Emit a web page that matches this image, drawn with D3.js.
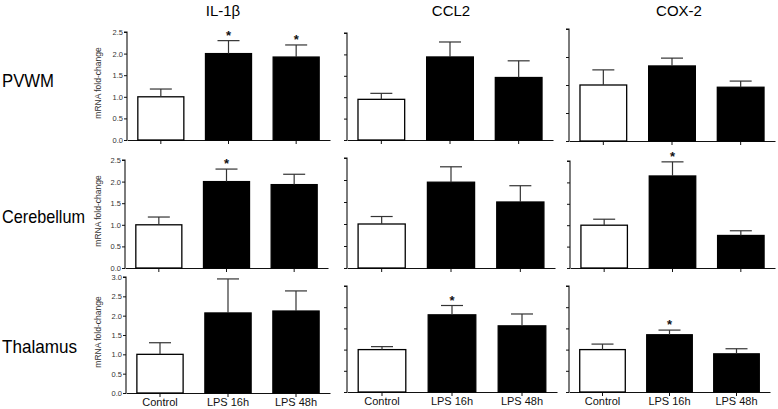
<!DOCTYPE html>
<html><head><meta charset="utf-8">
<script src="https://cdn.jsdelivr.net/npm/d3@7"></script>
<style>html,body{margin:0;padding:0;background:#fff}svg{display:block}</style>
</head><body>
<svg id="c" width="778" height="409"></svg>
<script>
// ---------- data ----------
const categories = ["Control", "LPS 16h", "LPS 48h"];
const genes = ["IL-1β", "CCL2", "COX-2"];
const regions = ["PVWM", "Cerebellum", "Thalamus"];

// mean fold-change [region][gene][category]
const meanPVWM       = [[1.00, 2.00, 1.92], [0.95, 1.94, 1.46], [1.00, 1.34, 0.96]];
const meanCerebellum = [[1.00, 2.00, 1.93], [1.00, 1.95, 1.50], [1.00, 2.15, 0.76]];
const meanThalamus   = [[1.00, 2.07, 2.12], [1.00, 1.82, 1.56], [1.00, 1.35, 0.90]];
// SEM
const semPVWM       = [[0.18, 0.30, 0.28], [0.14, 0.35, 0.39], [0.27, 0.14, 0.11]];
const semCerebellum = [[0.18, 0.29, 0.24], [0.17, 0.35, 0.37], [0.14, 0.33, 0.11]];
const semThalamus   = [[0.30, 0.88, 0.52], [0.07, 0.22, 0.28], [0.13, 0.11, 0.12]];
// significance stars
const sigPVWM       = [[0, 1, 1], [0, 0, 0], [0, 0, 0]];
const sigCerebellum = [[0, 1, 0], [0, 0, 0], [0, 1, 0]];
const sigThalamus   = [[0, 0, 0], [0, 1, 0], [0, 1, 0]];
// y-axis maxima and tick values
const yMaxPVWM = [2.5, 2.5, 2.0];
const yMaxCerebellum = [2.5, 2.5, 2.5];
const yMaxThalamus = [3.0, 2.5, 2.5];
const tickStep = 0.5;
const yTitle = "mRNA fold-change";

const means = [meanPVWM, meanCerebellum, meanThalamus];
const sems = [semPVWM, semCerebellum, semThalamus];
const sigs = [sigPVWM, sigCerebellum, sigThalamus];
const yMaxes = [yMaxPVWM, yMaxCerebellum, yMaxThalamus];

// ---------- layout ----------
const FONT = "'Liberation Sans', Arial, sans-serif";
const layout = [
  // [axisX, width, yBottom, yTop] per column
  [[127, 203, 140, 32], [347, 206, 140, 33], [569, 206, 141, 29]],
  [[125, 203, 268, 160], [347, 208, 268, 158], [570, 205, 268, 161]],
  [[126, 204, 393, 277], [347, 210, 392, 286], [569, 201, 392, 286]]
];
const rowLabelY = [87, 223, 353];
const rowLabelW = [52, 83, 75];
const colTitleX = [223, 451, 679];

const svg = d3.select("#c");
svg.append("rect").attr("width", 778).attr("height", 409).attr("fill", "#fff");

// column titles
genes.forEach((g, j) => {
  svg.append("text").attr("x", colTitleX[j]).attr("y", 16)
    .attr("text-anchor", "middle").attr("font-family", FONT)
    .attr("font-size", 15).attr("fill", "#000").text(g);
});
// row labels
regions.forEach((r, i) => {
  svg.append("text").attr("x", 2).attr("y", rowLabelY[i])
    .attr("font-family", FONT).attr("font-size", 19).attr("fill", "#000")
    .attr("textLength", rowLabelW[i]).attr("lengthAdjust", "spacingAndGlyphs")
    .text(r);
});

for (let i = 0; i < 3; i++) {
  for (let j = 0; j < 3; j++) {
    const [ax, w, yb, yt] = layout[i][j];
    const g = svg.append("g");
    const x = d3.scaleBand().domain(categories).range([ax, ax + w])
      .paddingInner(0.32).paddingOuter(0.16);
    const y = d3.scaleLinear().domain([0, yMaxes[i][j]]).range([yb, yt]);
    const ticks = d3.range(0, yMaxes[i][j] + 1e-9, tickStep);

    // y axis
    const yAxis = d3.axisLeft(y).tickValues(ticks).tickSize(3).tickPadding(1)
      .tickFormat(j === 0 ? d3.format(".1f") : "");
    const ya = g.append("g").attr("transform", `translate(${ax},0)`).call(yAxis);
    ya.select(".domain").attr("stroke", "#111").attr("stroke-width", 1.1).attr("d", `M-3,${yt}H0V${yb}`);
    ya.selectAll(".tick line").attr("stroke", "#111");
    ya.selectAll(".tick text").attr("font-family", FONT).attr("font-size", 7.5).attr("fill", "#333");

    // x axis
    const xAxis = d3.axisBottom(x).tickSize(4).tickSizeOuter(0)
      .tickFormat(i === 2 ? (d => d) : "");
    const xa = g.append("g").attr("transform", `translate(0,${yb})`).call(xAxis);
    xa.select(".domain").attr("stroke", "#111").attr("stroke-width", 1.1);
    xa.selectAll(".tick line").attr("stroke", "#111");
    xa.selectAll(".tick text").attr("font-family", FONT).attr("font-size", 11)
      .attr("fill", "#111").attr("dy", "0.5em");

    // bars
    const data = categories.map((c, k) => ({
      c, k, m: means[i][j][k], s: sems[i][j][k], sig: sigs[i][j][k]
    }));
    g.selectAll("rect.bar").data(data).join("rect").attr("class", "bar")
      .attr("x", d => x(d.c)).attr("width", x.bandwidth())
      .attr("y", d => y(d.m)).attr("height", d => y(0) - y(d.m))
      .attr("fill", d => d.k === 0 ? "#fff" : "#000")
      .attr("stroke", "#000").attr("stroke-width", 1.3);

    // error bars
    const cx = d => x(d.c) + x.bandwidth() / 2;
    g.selectAll("line.err").data(data).join("line").attr("class", "err")
      .attr("x1", cx).attr("x2", cx)
      .attr("y1", d => y(d.m)).attr("y2", d => y(d.m + d.s))
      .attr("stroke", "#333").attr("stroke-width", 1.2);
    g.selectAll("line.cap").data(data).join("line").attr("class", "cap")
      .attr("x1", d => cx(d) - 11).attr("x2", d => cx(d) + 11)
      .attr("y1", d => y(d.m + d.s)).attr("y2", d => y(d.m + d.s))
      .attr("stroke", "#333").attr("stroke-width", 1.2);

    // stars
    g.selectAll("text.star").data(data.filter(d => d.sig)).join("text").attr("class", "star")
      .attr("x", cx).attr("y", d => y(d.m + d.s) - 1)
      .attr("text-anchor", "middle").attr("font-family", FONT)
      .attr("font-size", 13).attr("font-weight", "bold").attr("fill", "#111").text("*");

    // y title
    if (j === 0) {
      g.append("text")
        .attr("transform", `translate(101,${(yb + yt) / 2 - 3}) rotate(-90)`)
        .attr("text-anchor", "middle").attr("font-family", FONT)
        .attr("font-size", 8.5).attr("fill", "#333").text(yTitle);
    }
  }
}
</script>
</body></html>
